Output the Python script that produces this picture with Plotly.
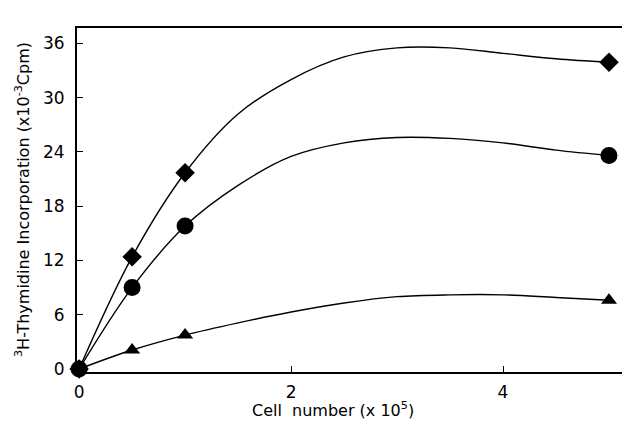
import plotly.graph_objects as go

# Measured points
cells = [0, 0.5, 1.0, 5.0]
diamond_vals = [0, 12.4, 21.7, 33.9]
circle_vals = [0, 9.0, 15.8, 23.6]
triangle_vals = [0, 2.1, 3.75, 7.6]

# Hand-drawn fitted curves
curve_x = [0, 0.5, 1.0, 1.5, 2.0, 2.5, 3.0, 3.5, 4.0, 4.5, 5.0]
diamond_curve = [0, 12.4, 21.7, 28.2, 32.0, 34.5, 35.5, 35.5, 34.9, 34.3, 33.9]
circle_curve = [0, 9.0, 15.8, 20.3, 23.5, 25.0, 25.6, 25.5, 25.0, 24.2, 23.6]
triangle_curve = [0, 2.1, 3.75, 5.1, 6.3, 7.3, 8.0, 8.2, 8.2, 7.9, 7.6]

x_ticks = [0, 2, 4]
y_ticks = [0, 6, 12, 18, 24, 30, 36]

x_title = "Cell  number (x 10<sup>5</sup>)"
y_title = "<sup>3</sup>H-Thymidine Incorporation (x10<sup>-3</sup>Cpm)"

fig = go.Figure()
for cy in (diamond_curve, circle_curve, triangle_curve):
    fig.add_trace(go.Scatter(x=curve_x, y=cy, mode="lines",
                             line=dict(color="black", width=1.4, shape="spline", smoothing=1.0),
                             showlegend=False, hoverinfo="skip", cliponaxis=False))

for vals, sym, size in ((diamond_vals, "diamond", 15),
                        (circle_vals, "circle", 17),
                        (triangle_vals, "triangle-up", 14)):
    fig.add_trace(go.Scatter(x=cells, y=vals, mode="markers",
                             marker=dict(symbol=sym, size=size, color="black"),
                             showlegend=False, cliponaxis=False))

font_family = "DejaVu Sans, Liberation Sans, sans-serif"
# the page body has an 8px default margin, so the figure is sized to fit the 630x426 window
fig.update_layout(
    width=622, height=418,
    margin=dict(l=69, r=3, t=20, b=54, autoexpand=False),
    paper_bgcolor="white", plot_bgcolor="white",
    font=dict(family=font_family, color="black"),
    xaxis=dict(range=[-0.02, 5.17], tickvals=x_ticks, ticks="inside", ticklen=6,
               tickcolor="black", showline=True, linecolor="black", linewidth=2,
               mirror=True, showgrid=False, zeroline=False, automargin=False,
               ticklabelstandoff=4, tickfont=dict(size=17)),
    yaxis=dict(range=[-0.33, 37.7], tickvals=y_ticks, ticks="inside", ticklen=6,
               tickcolor="black", showline=True, linecolor="black", linewidth=2,
               mirror=True, showgrid=False, zeroline=False, automargin=False,
               ticklabelstandoff=7, tickfont=dict(size=17)),
    annotations=[
        dict(text=x_title, xref="paper", yref="paper", x=0.465, y=-0.11,
             xanchor="center", yanchor="middle", showarrow=False, font=dict(size=16)),
        dict(text=y_title, xref="paper", yref="paper", x=-0.1, y=0.5,
             xanchor="center", yanchor="middle", textangle=-90, showarrow=False,
             font=dict(size=16)),
    ],
)

fig.write_html("out.html")
